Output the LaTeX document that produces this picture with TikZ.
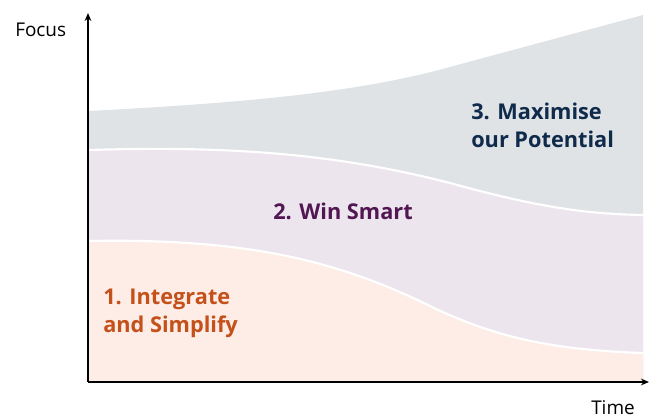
\documentclass[tikz,border=0pt]{standalone}
\usepackage{fontspec}
\setmainfont{Open Sans}
\usetikzlibrary{arrows.meta}
\definecolor{greyband}{HTML}{DFE3E5}
\definecolor{purpleband}{HTML}{ECE5EE}
\definecolor{orangeband}{HTML}{FDEDE6}
\definecolor{navytext}{HTML}{102A4C}
\definecolor{purpletext}{HTML}{521652}
\definecolor{orangetext}{HTML}{C4501A}
\tikzset{
  axis/.style={line width=1.1pt, -{Stealth[length=6pt,width=5pt]}},
  sep/.style={white, line width=1.6pt},
  bandlabel/.style={font=\fontsize{16.3}{21}\selectfont\bfseries, align=left, anchor=base west, inner sep=0pt},
  axislabel/.style={font=\fontsize{14.2}{17}\selectfont, anchor=base west, inner sep=0pt}
}
\begin{document}
\begin{tikzpicture}[x=0.75pt,y=-0.75pt]
\useasboundingbox (0,0) rectangle (650,420);
% grey band
\fill[greyband] (89,381) -- (89,111) .. controls (220,104) and (350,95) .. (450,67)
   .. controls (520,48) and (580,32) .. (643,15) -- (643,381) -- cycle;
% purple band
\fill[purpleband] (89,381) -- (89,150) .. controls (220,146) and (330,152) .. (450,183)
   .. controls (530,205) and (580,214) .. (643,215) -- (643,381) -- cycle;
% orange band
\fill[orangeband] (89,381) -- (89,241) .. controls (250,238) and (340,262) .. (430,306)
   .. controls (500,340) and (560,350) .. (643,353) -- (643,381) -- cycle;
% separators
\draw[sep] (89,150) .. controls (220,146) and (330,152) .. (450,183)
   .. controls (530,205) and (580,214) .. (643,215);
\draw[sep] (89,241) .. controls (250,238) and (340,262) .. (430,306)
   .. controls (500,340) and (560,350) .. (643,353);
% axes
\coordinate (origin) at (88,382);
\coordinate (ytip) at (88,13);
\coordinate (xtip) at (649,382);
\draw[axis] (origin) -- (ytip);
\draw[axis] (origin) -- (xtip);
% labels
\node[axislabel] (focus) at (15,37) {Focus};
\node[axislabel] (time) at (591,415) {Time};
\node[bandlabel, text=navytext] (l3) at (471,148) {3. Maximise\\our Potential};
\node[bandlabel, text=purpletext] (l2) at (273,220) {2. Win Smart};
\node[bandlabel, text=orangetext] (l1) at (103,333) {1. Integrate\\and Simplify};
\end{tikzpicture}
\end{document}
